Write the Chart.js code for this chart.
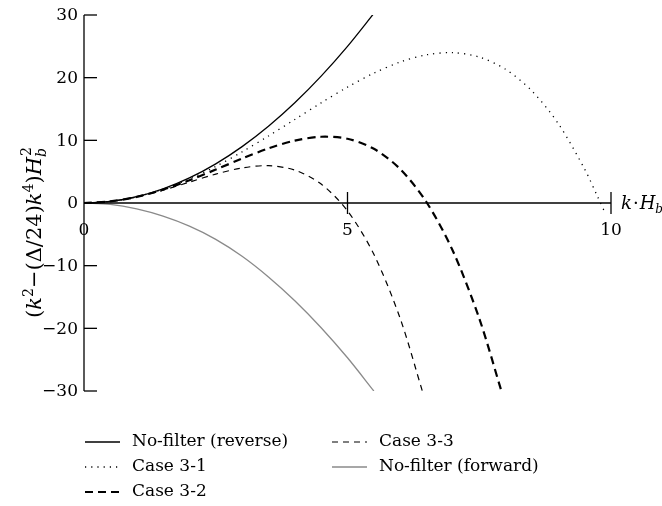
<!DOCTYPE html>
<head>
  <script src="https://cdn.jsdelivr.net/npm/chart.js"></script>
  <style>
    body { margin: 0; background: #fff; }
    .chartBox { width: 662px; height: 506px; }
  </style>
</head>
<body>
  <div class="chartBox">
    <canvas id="dispChart"></canvas>
  </div>

<script>
// values
const kReverse = [0, 0.5, 1, 1.5, 2, 2.5, 3, 3.5, 4, 4.5, 5, 5.5];
const yReverse = [0, 0.25, 1, 2.25, 4, 6.25, 9, 12.25, 16, 20.25, 25, 30.25];

const kCase31 = [0, 0.5, 1, 1.5, 2, 2.5, 3, 3.5, 4, 4.5, 5, 5.5, 6, 6.5, 7, 7.5, 8, 8.5, 9, 9.5, 9.75, 9.9];
const yCase31 = [0, 0.25, 0.99, 2.2, 3.83, 5.84, 8.16, 10.69, 13.33, 15.98, 18.49, 20.72, 22.5, 23.65, 23.99, 23.29, 21.33, 17.87, 12.66, 5.41, 0.93, -1.8];

const kCase32 = [0, 0.5, 1, 1.5, 2, 2.5, 3, 3.5, 4, 4.5, 5, 5.5, 6, 6.5, 7, 7.5, 7.92];
const yCase32 = [0, 0.25, 0.98, 2.13, 3.62, 5.33, 7.09, 8.71, 9.96, 10.57, 10.25, 8.65, 5.41, 0.12, -7.66, -18.42, -30];

const kCase33 = [0, 0.5, 1, 1.5, 2, 2.5, 3, 3.5, 4, 4.5, 5, 5.5, 6, 6.42];
const yCase33 = [0, 0.25, 0.96, 2.04, 3.33, 4.61, 5.6, 5.95, 5.25, 3.03, -1.25, -8.18, -18.43, -30];

const kForward = [0, 0.5, 1, 1.5, 2, 2.5, 3, 3.5, 4, 4.5, 5, 5.5];
const yForward = [0, -0.22, -0.95, -2.1, -3.7, -5.8, -8.5, -11.8, -15.6, -19.9, -24.7, -30];

const labels = ["No-filter (reverse)", "Case 3-1", "Case 3-2", "Case 3-3", "No-filter (forward)"];
const yTicks = [30, 20, 10, 0, -10, -20, -30];
const xTickMarks = [5, 10];
const xTickLabels = [0, 5, 10];

const FONT = '"DejaVu Serif", serif';

function pts(k, y) {
  return k.map((x, i) => ({ x: x, y: y[i] }));
}

const styles = [
  { color: '#000', width: 1.3, dash: [] },
  { color: '#000', width: 1.3, dash: [1.2, 5] },
  { color: '#000', width: 2.2, dash: [8, 5] },
  { color: '#000', width: 1.2, dash: [6, 5] },
  { color: '#8a8a8a', width: 1.3, dash: [] }
];

const series = [
  pts(kReverse, yReverse),
  pts(kCase31, yCase31),
  pts(kCase32, yCase32),
  pts(kCase33, yCase33),
  pts(kForward, yForward)
];

const datasets = series.map((d, i) => ({
  label: labels[i],
  data: d,
  showLine: true,
  borderColor: styles[i].color,
  borderWidth: styles[i].width,
  borderDash: styles[i].dash,
  pointRadius: 0,
  tension: 0.3,
  fill: false
}));

// draws axes, tick marks, titles and the two-column legend
const drawAxes = {
  id: 'drawAxes',
  afterDraw(chart) {
    const { ctx, scales: { x, y } } = chart;
    ctx.save();
    ctx.strokeStyle = '#000';
    ctx.fillStyle = '#000';
    ctx.lineWidth = 1.3;
    ctx.setLineDash([]);

    const x0 = x.getPixelForValue(0);
    const y0 = y.getPixelForValue(0);

    // y axis
    ctx.beginPath();
    ctx.moveTo(x0, y.getPixelForValue(30));
    ctx.lineTo(x0, y.getPixelForValue(-30));
    ctx.stroke();
    ctx.font = '17px ' + FONT;
    ctx.textAlign = 'right';
    ctx.textBaseline = 'middle';
    yTicks.forEach(v => {
      const py = y.getPixelForValue(v);
      ctx.beginPath();
      ctx.moveTo(x0, py);
      ctx.lineTo(x0 + 13, py);
      ctx.stroke();
      ctx.fillText(v < 0 ? '\u2212' + Math.abs(v) : String(v), x0 - 6, py + 1);
    });

    // x axis through y = 0
    const xEnd = x.getPixelForValue(10);
    ctx.beginPath();
    ctx.moveTo(x0, y0);
    ctx.lineTo(xEnd, y0);
    ctx.stroke();
    xTickMarks.forEach(v => {
      const px = x.getPixelForValue(v);
      ctx.beginPath();
      ctx.moveTo(px, y0 - 11);
      ctx.lineTo(px, y0 + 11);
      ctx.stroke();
    });
    ctx.textAlign = 'center';
    xTickLabels.forEach(v => {
      ctx.fillText(String(v), x.getPixelForValue(v), y0 + 28);
    });

    // x title: k·H_b
    ctx.textAlign = 'left';
    ctx.textBaseline = 'alphabetic';
    let tx = xEnd + 10;
    const tb = y0 + 6;
    ctx.font = 'italic 18px ' + FONT;
    ctx.fillText('k', tx, tb); tx += ctx.measureText('k').width + 1;
    ctx.font = '18px ' + FONT;
    ctx.fillText('\u00b7', tx, tb); tx += ctx.measureText('\u00b7').width + 1;
    ctx.font = 'italic 18px ' + FONT;
    ctx.fillText('H', tx, tb); tx += ctx.measureText('H').width;
    ctx.font = 'italic 12px ' + FONT;
    ctx.fillText('b', tx, tb + 4);

    // y title, rotated: (k^2 − (Δ/24)k^4)H_b^2
    const parts = [
      ['(', '', 0], ['k', 'i', 0], ['2', 's', -8], ['\u2212(\u0394/24)', '', 0],
      ['k', 'i', 0], ['4', 's', -8], [')', '', 0], ['H', 'i', 0], ['b', 'si', 5], ['2', 's', -10]
    ];
    const fontOf = t => t === 'i' ? 'italic 21px ' + FONT : t === 's' ? '14px ' + FONT : t === 'si' ? 'italic 14px ' + FONT : '21px ' + FONT;
    let total = 0;
    parts.forEach((p, i) => {
      ctx.font = fontOf(p[1]);
      if (i !== parts.length - 1) total += ctx.measureText(p[0]).width;
    });
    ctx.translate(41, 233);
    ctx.rotate(-Math.PI / 2);
    let px = -total / 2;
    let bx = 0;
    parts.forEach((p, i) => {
      ctx.font = fontOf(p[1]);
      const w = ctx.measureText(p[0]).width;
      if (i === parts.length - 1) {
        // superscript sits above the subscript of H
        ctx.fillText(p[0], bx + 1, p[2]);
      } else {
        ctx.fillText(p[0], px, p[2]);
        bx = px;
        px += w;
      }
    });
    ctx.setTransform(1, 0, 0, 1, 0, 0);

    // legend
    const colX = [85, 332];
    const rowY = [442, 467, 492];
    ctx.font = '17px ' + FONT;
    ctx.textBaseline = 'middle';
    chart.data.datasets.forEach((ds, i) => {
      const col = i < 3 ? 0 : 1;
      const row = i < 3 ? i : i - 3;
      const lx = colX[col];
      const ly = rowY[row];
      ctx.strokeStyle = ds.borderColor;
      ctx.lineWidth = ds.borderWidth;
      ctx.setLineDash(ds.borderDash);
      ctx.beginPath();
      ctx.moveTo(lx, ly);
      ctx.lineTo(lx + 35, ly);
      ctx.stroke();
      ctx.setLineDash([]);
      ctx.fillStyle = '#000';
      ctx.fillText(ds.label, lx + 47, ly);
    });
    ctx.restore();
  }
};

new Chart(document.getElementById('dispChart'), {
  type: 'scatter',
  data: { datasets: datasets },
  options: {
    responsive: true,
    maintainAspectRatio: false,
    animation: false,
    layout: { padding: { left: 84, right: 51, top: 15, bottom: 115 } },
    plugins: {
      legend: { display: false },
      tooltip: { enabled: false }
    },
    scales: {
      x: { type: 'linear', min: 0, max: 10, display: false },
      y: { type: 'linear', min: -30, max: 30, display: false }
    }
  },
  plugins: [drawAxes]
});
</script>
</body>
